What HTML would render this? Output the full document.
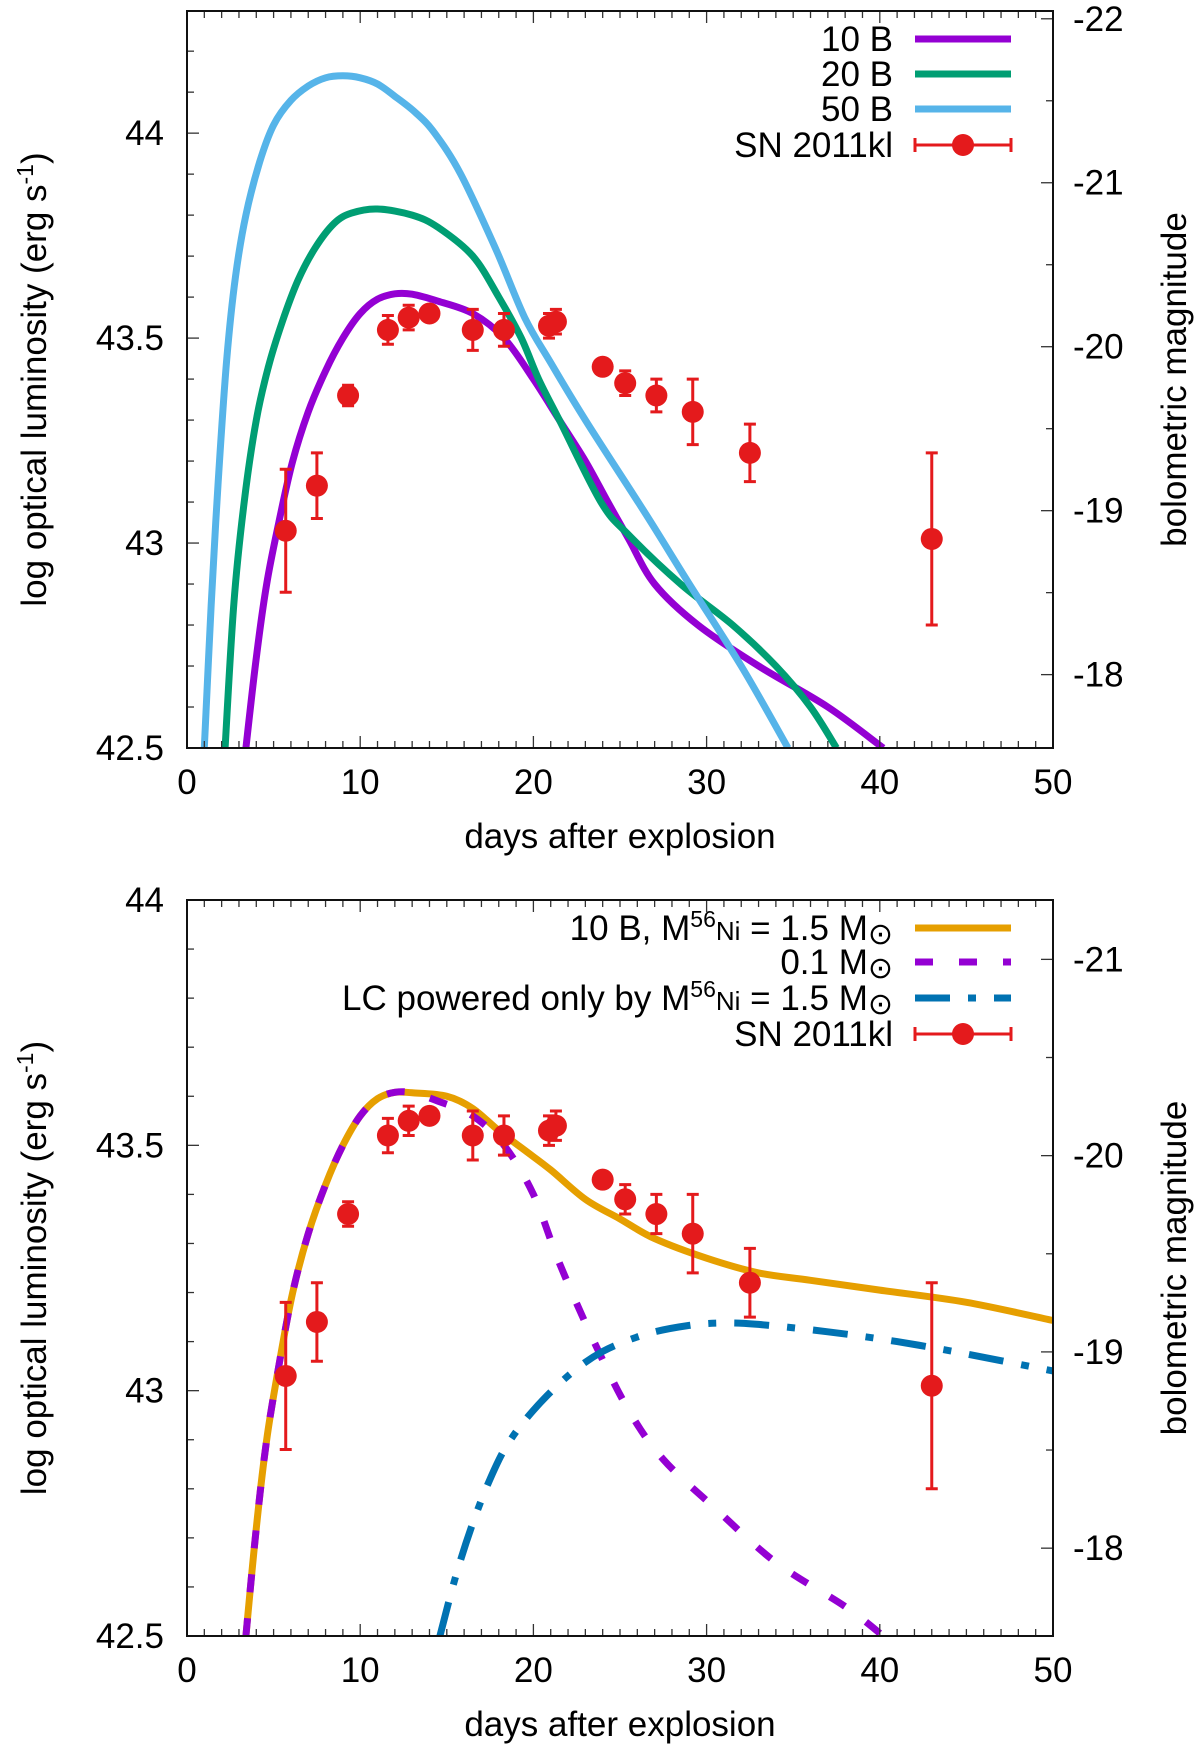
<!DOCTYPE html>
<html><head><meta charset="utf-8">
<style>
html,body{margin:0;padding:0;background:#fff;}
svg{display:block;font-family:"Liberation Sans",Arial,sans-serif;}
</style></head>
<body>
<svg id="fig" width="1200" height="1748" viewBox="0 0 1200 1748" xmlns="http://www.w3.org/2000/svg">
<rect width="1200" height="1748" fill="#fff"/>
</svg>
<script>
// ---- data ----
const obsDays = [5.7, 7.5, 9.3, 11.6, 12.8, 14.0, 16.5, 18.3, 20.9, 21.3, 24.0, 25.3, 27.1, 29.2, 32.5, 43.0];
const obsLogL = [43.03, 43.14, 43.36, 43.52, 43.55, 43.56, 43.52, 43.52, 43.53, 43.54, 43.43, 43.39, 43.36, 43.32, 43.22, 43.01];
const obsErr  = [0.15, 0.08, 0.025, 0.035, 0.03, 0.015, 0.05, 0.04, 0.03, 0.03, 0.015, 0.03, 0.04, 0.08, 0.07, 0.21];

const b50Days = [1.0, 1.4, 1.8, 2.3, 2.8, 3.4, 4.2, 5.0, 6.0, 7.0, 8.0, 9.0, 10.0, 11.0, 12.0, 13.2, 14.3, 15.8, 17.8, 19.5, 21.0, 23.0, 26.5, 29.0, 32.0, 34.7];
const b50LogL = [42.5, 42.85, 43.15, 43.45, 43.65, 43.8, 43.93, 44.02, 44.08, 44.115, 44.135, 44.14, 44.135, 44.12, 44.09, 44.05, 44.0, 43.9, 43.72, 43.55, 43.44, 43.3, 43.07, 42.9, 42.7, 42.5];

const b20Days = [2.2, 2.7, 3.3, 4.0, 4.7, 5.5, 6.4, 7.4, 8.5, 9.5, 11.0, 13.0, 14.5, 16.5, 18.0, 19.3, 20.3, 21.5, 23.9, 25.5, 28.5, 31.5, 34.0, 36.0, 37.5];
const b20LogL = [42.5, 42.85, 43.1, 43.3, 43.43, 43.54, 43.64, 43.72, 43.78, 43.805, 43.815, 43.8, 43.77, 43.7, 43.6, 43.5, 43.4, 43.3, 43.1, 43.02, 42.9, 42.8, 42.7, 42.6, 42.5];

const b10Days = [3.4, 4.0, 4.6, 5.3, 6.1, 7.0, 8.0, 9.0, 10.0, 11.0, 12.0, 13.0, 14.5, 16.5, 18.3, 20.0, 21.5, 23.0, 24.3, 25.5, 27.0, 29.5, 33.0, 37.0, 40.2];
const b10LogL = [42.5, 42.72, 42.9, 43.05, 43.2, 43.32, 43.42, 43.5, 43.56, 43.595, 43.608, 43.607, 43.59, 43.56, 43.5, 43.4, 43.3, 43.2, 43.1, 43.01, 42.9, 42.8, 42.7, 42.6, 42.5];

const niDays = [3.4, 4.0, 4.6, 5.3, 6.1, 7.0, 8.0, 9.0, 10.0, 11.0, 12.0, 13.0, 15.0, 16.5, 18.0, 19.5, 21.0, 23.0, 25.0, 27.0, 30.0, 33.0, 36.0, 40.0, 45.0, 50.0];
const niLogL = [42.5, 42.72, 42.9, 43.05, 43.2, 43.32, 43.42, 43.5, 43.56, 43.595, 43.608, 43.607, 43.6, 43.575, 43.53, 43.49, 43.45, 43.39, 43.35, 43.31, 43.27, 43.24, 43.225, 43.205, 43.18, 43.143];

const lowDays = [3.4, 4.0, 4.6, 5.3, 6.1, 7.0, 8.0, 9.0, 10.0, 11.0, 12.0, 13.0, 14.5, 16.5, 18.3, 20.0, 21.5, 23.5, 25.5, 27.5, 30.5, 34.0, 38.0, 40.2];
const lowLogL = [42.5, 42.72, 42.9, 43.05, 43.2, 43.32, 43.42, 43.5, 43.56, 43.595, 43.608, 43.607, 43.59, 43.56, 43.5, 43.4, 43.26, 43.1, 42.96, 42.86, 42.76, 42.65, 42.56, 42.5];

const niOnlyDays = [14.6, 15.5, 16.5, 17.5, 18.5, 20.0, 22.0, 24.0, 26.5, 29.0, 31.0, 33.0, 37.0, 41.0, 45.0, 50.0];
const niOnlyLogL = [42.5, 42.62, 42.73, 42.82, 42.89, 42.96, 43.03, 43.08, 43.115, 43.133, 43.138, 43.135, 43.12, 43.1, 43.075, 43.04];

const xTicks = [0, 10, 20, 30, 40, 50];
const yTicks = [42.5, 43, 43.5, 44];
const yTickLabels = ["42.5", "43", "43.5", "44"];
const magTicksTop = [-22, -21, -20, -19, -18];
const magTicksBot = [-21, -20, -19, -18];

// ---- layout ----
const NS = "http://www.w3.org/2000/svg";
const svg = document.getElementById("fig");
const X0 = 187, X1 = 1053;
const panels = [
  {top: 11, bot: 748, ymin: 42.5, ymax: 44.298, name: "top"},
  {top: 900, bot: 1636, ymin: 42.5, ymax: 44.0, name: "bottom"}
];
const MAGREF = 43.479;
function xs(d){ return X0 + (d - 0) / 50 * (X1 - X0); }
function ysF(p){ return v => p.bot - (v - p.ymin) / (p.ymax - p.ymin) * (p.bot - p.top); }
function magToLog(m){ return MAGREF - (m + 20) / 2.5; }

function mk(tag, attrs, parent){
  const e = document.createElementNS(NS, tag);
  for (const k in attrs) e.setAttribute(k, attrs[k]);
  (parent || svg).appendChild(e);
  return e;
}
function txt(s, x, y, anchor, size, parent){
  const t = mk("text", {x: x, y: y, "text-anchor": anchor, "font-size": size, fill: "#000"}, parent);
  t.textContent = s;
  return t;
}

function drawAxes(p, g, magTicks){
  const ys = ysF(p);
  for (let d = 0; d <= 50; d++){
    const major = d % 10 === 0;
    const len = major ? 12 : 7;
    const x = xs(d);
    const t1 = mk("line", {x1: x, x2: x, y1: p.bot, y2: p.bot - len, stroke: "#333", "stroke-width": 1.3}, g);
    
    
    const t2 = mk("line", {x1: x, x2: x, y1: p.top, y2: p.top + len, stroke: "#333", "stroke-width": 1.3}, g);
    
    
  }
  xTicks.forEach(d => {
    const t = txt(String(d), xs(d), p.bot + 46, "middle", 35, g);
    
    
  });
  for (let v = 42.5; v <= p.ymax + 1e-6; v += 0.1){
    const vv = Math.round(v * 10) / 10;
    const major = Math.abs(vv * 2 - Math.round(vv * 2)) < 1e-6;
    const y = ys(vv);
    const t = mk("line", {x1: X0, x2: X0 + (major ? 12 : 7), y1: y, y2: y, stroke: "#333", "stroke-width": 1.3}, g);
    
    
  }
  yTicks.forEach((v, i) => {
    if (v > p.ymax + 1e-6) return;
    const t = txt(yTickLabels[i], 164, ys(v) + 12, "end", 35, g);
    
    
  });
  for (let m = -22.5; m <= -17.5; m += 0.5){
    const lv = magToLog(m);
    if (lv < p.ymin - 1e-6 || lv > p.ymax + 1e-6) continue;
    const major = Number.isInteger(m);
    const y = ys(lv);
    const t = mk("line", {x1: X1, x2: X1 - (major ? 12 : 7), y1: y, y2: y, stroke: "#333", "stroke-width": 1.3}, g);
    
    
  }
  magTicks.forEach(m => {
    const t = txt(String(m), 1073, ys(magToLog(m)) + 12, "start", 35, g);
    
    
  });
  const frame = mk("rect", {x: X0, y: p.top, width: X1 - X0, height: p.bot - p.top, fill: "none", stroke: "#111", "stroke-width": 2}, g);
  
  
  const cy = (p.top + p.bot) / 2;
  const yl = mk("text", {x: 0, y: 0, "text-anchor": "middle", "font-size": 35, transform: `translate(46,${cy}) rotate(-90)`}, g);
  yl.innerHTML = 'log optical luminosity (erg s<tspan dy="-13" font-size="23">-1</tspan><tspan dy="13">)</tspan>';
  
  
  const yr = mk("text", {x: 0, y: 0, "text-anchor": "middle", "font-size": 35, transform: `translate(1186,${cy}) rotate(-90)`}, g);
  yr.textContent = "bolometric magnitude";
  
  
  const xl = txt("days after explosion", 620, p.bot + 100, "middle", 35, g);
  
  
}

function smoothPath(P){
  let d = `M${P[0][0].toFixed(1)},${P[0][1].toFixed(1)}`;
  for (let i = 0; i < P.length - 1; i++){
    const p0 = P[Math.max(0, i - 1)], p1 = P[i], p2 = P[i + 1], p3 = P[Math.min(P.length - 1, i + 2)];
    const c1 = [p1[0] + (p2[0] - p0[0]) / 6, p1[1] + (p2[1] - p0[1]) / 6];
    const c2 = [p2[0] - (p3[0] - p1[0]) / 6, p2[1] - (p3[1] - p1[1]) / 6];
    d += `C${c1[0].toFixed(1)},${c1[1].toFixed(1)} ${c2[0].toFixed(1)},${c2[1].toFixed(1)} ${p2[0].toFixed(1)},${p2[1].toFixed(1)}`;
  }
  return d;
}

function curve(p, g, days, vals, color, dash, name){
  const ys = ysF(p);
  const P = days.map((d, i) => [xs(d), ys(vals[i])]);
  const a = {d: smoothPath(P), fill: "none", stroke: color, "stroke-width": 7, "stroke-linejoin": "round"};
  if (dash) a["stroke-dasharray"] = dash;
  const pl = mk("path", a, g);
  
  
}

function points(p, g){
  const ys = ysF(p);
  obsDays.forEach((d, i) => {
    const x = xs(d), y = ys(obsLogL[i]);
    const y1 = ys(obsLogL[i] + obsErr[i]), y2 = ys(obsLogL[i] - obsErr[i]);
    const eb = mk("path", {d: `M${x},${y1}V${y2}M${x-6},${y1}H${x+6}M${x-6},${y2}H${x+6}`, stroke: "#e41a1c", "stroke-width": 3, fill: "none"}, g);
    
    
    const c = mk("circle", {cx: x, cy: y, r: 11, fill: "#e41a1c"}, g);
    
    
  });
}

function legendRow(g, y, label, color, dash, isPoint){
  const t = mk("text", {x: 893, y: y + 12, "text-anchor": "end", "font-size": 35}, g);
  t.innerHTML = label;
  
  
  if (isPoint){
    const l = mk("path", {d: `M915,${y}H1011M915,${y-7}V${y+7}M1011,${y-7}V${y+7}`, stroke: color, "stroke-width": 3, fill: "none"}, g);
    
    
    const c = mk("circle", {cx: 963, cy: y, r: 11, fill: color}, g);
    
    
  } else {
    const a = {x1: 915, x2: 1011, y1: y, y2: y, stroke: color, "stroke-width": 7};
    if (dash) a["stroke-dasharray"] = dash;
    const l = mk("line", a, g);
    
    
  }
}

const MSUN = 'M<tspan font-size="30" dy="4">\u2299</tspan><tspan dy="-4"></tspan>';
const NI = 'M<tspan dy="-13" font-size="23">56</tspan><tspan dy="13" font-size="26">Ni</tspan>';

const g1 = mk("g", {});


const cp1 = mk("clipPath", {id: "c1"}, g1);
mk("rect", {x: X0, y: panels[0].top, width: X1 - X0, height: panels[0].bot - panels[0].top}, cp1);
const cg1 = mk("g", {"clip-path": "url(#c1)"}, g1);
curve(panels[0], cg1, b10Days, b10LogL, "#9400d3", null, "curve-10B");
curve(panels[0], cg1, b20Days, b20LogL, "#009e73", null, "curve-20B");
curve(panels[0], cg1, b50Days, b50LogL, "#56b4e9", null, "curve-50B");
points(panels[0], cg1);
drawAxes(panels[0], g1, magTicksTop);
legendRow(g1, 39, "10 B", "#9400d3");
legendRow(g1, 74, "20 B", "#009e73");
legendRow(g1, 109, "50 B", "#56b4e9");
legendRow(g1, 145, "SN 2011kl", "#e41a1c", null, true);

const g2 = mk("g", {});


const cp2 = mk("clipPath", {id: "c2"}, g2);
mk("rect", {x: X0, y: panels[1].top, width: X1 - X0, height: panels[1].bot - panels[1].top}, cp2);
const cg2 = mk("g", {"clip-path": "url(#c2)"}, g2);
curve(panels[1], cg2, niDays, niLogL, "#e69f00", null, "curve-10B-ni-1.5");
curve(panels[1], cg2, lowDays, lowLogL, "#9400d3", "18 26", "curve-ni-0.1");
curve(panels[1], cg2, niOnlyDays, niOnlyLogL, "#0072b2", "35 18 8 18", "curve-ni-only");
points(panels[1], cg2);
drawAxes(panels[1], g2, magTicksBot);
legendRow(g2, 928, "10 B, " + NI + " = 1.5 " + MSUN, "#e69f00");
legendRow(g2, 962, "0.1 " + MSUN, "#9400d3", "18 26");
legendRow(g2, 998, "LC powered only by " + NI + " = 1.5 " + MSUN, "#0072b2", "35 18 8 18");
legendRow(g2, 1034, "SN 2011kl", "#e41a1c", null, true);
</script>
</body></html>
